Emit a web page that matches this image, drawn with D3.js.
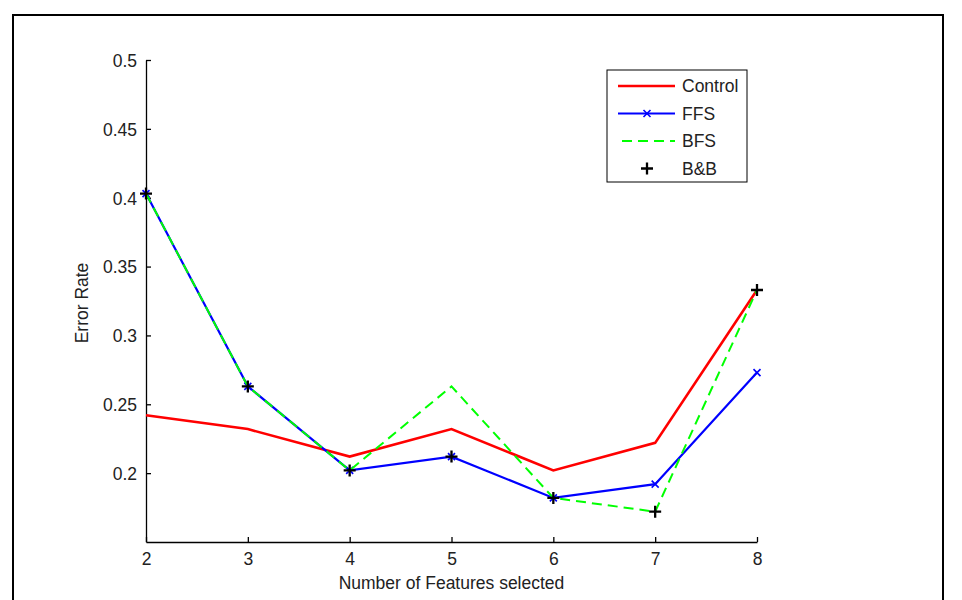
<!DOCTYPE html>
<html>
<head>
<meta charset="utf-8">
<script src="https://cdn.jsdelivr.net/npm/d3@7"></script>
<style>
  body { margin: 0; background: #fff; }
  text { font-family: "Liberation Sans", Arial, sans-serif; }
</style>
</head>
<body>
<div id="chart"></div>
<script>
(function() {
  const features = [2, 3, 4, 5, 6, 7, 8];
  const control  = [0.242, 0.232, 0.212, 0.232, 0.202, 0.222, 0.333];
  const ffs      = [0.403, 0.263, 0.202, 0.212, 0.182, 0.192, 0.273];
  const bfs      = [0.403, 0.263, 0.202, 0.263, 0.182, 0.172, 0.333];
  const bnb      = [0.403, 0.263, 0.202, 0.212, 0.182, 0.172, 0.333];
  const yTicks   = [0.2, 0.25, 0.3, 0.35, 0.4, 0.45, 0.5];

  const W = 962, H = 600;
  const margin = { top: 60, right: 205, bottom: 58, left: 146 };
  const fontSize = 17.5;

  const svg = d3.select("#chart").append("svg")
    .attr("width", W)
    .attr("height", H);

  // outer frame
  svg.append("rect")
    .attr("x", 13).attr("y", 15)
    .attr("width", 930).attr("height", 600)
    .attr("fill", "none")
    .attr("stroke", "#000")
    .attr("stroke-width", 2);

  const x = d3.scaleLinear()
    .domain([2, 8])
    .range([margin.left, W - margin.right]);

  const y = d3.scaleLinear()
    .domain([0.15, 0.5])
    .range([H - margin.bottom, margin.top]);

  // axes (ticks point inward, like MATLAB)
  const xAxis = svg.append("g")
    .attr("transform", `translate(0,${H - margin.bottom})`)
    .call(d3.axisBottom(x).tickValues(features).tickFormat(d3.format("d"))
      .tickSizeInner(-5).tickSizeOuter(0));

  const yAxis = svg.append("g")
    .attr("transform", `translate(${margin.left},0)`)
    .call(d3.axisLeft(y).tickValues(yTicks).tickFormat(d => String(+d.toFixed(2)))
      .tickSizeInner(-5).tickSizeOuter(0).tickPadding(9));

  [xAxis, yAxis].forEach(a => {
    a.selectAll("path, line").attr("stroke", "#000").attr("stroke-width", 1.3);
    a.selectAll("text").attr("font-size", fontSize).attr("fill", "#222");
  });
  xAxis.selectAll("text").attr("y", 23).attr("dy", 0);
  yAxis.selectAll("text").attr("dy", "0.36em");

  svg.append("text")
    .attr("x", (x(2) + x(8)) / 2)
    .attr("y", 589)
    .attr("text-anchor", "middle")
    .attr("font-size", fontSize)
    .attr("fill", "#222")
    .text("Number of Features selected");

  svg.append("text")
    .attr("transform", `translate(88,${(y(0.15) + y(0.5)) / 2 + 2}) rotate(-90)`)
    .attr("text-anchor", "middle")
    .attr("font-size", fontSize)
    .attr("fill", "#222")
    .text("Error Rate");

  const line = d3.line()
    .x((d, i) => x(features[i]))
    .y(d => y(d));

  svg.append("path")
    .datum(control)
    .attr("d", line)
    .attr("fill", "none")
    .attr("stroke", "#f00")
    .attr("stroke-width", 2.6);

  svg.append("path")
    .datum(ffs)
    .attr("d", line)
    .attr("fill", "none")
    .attr("stroke", "#00f")
    .attr("stroke-width", 2.2);

  const cross = 3.5;
  svg.append("g").selectAll("path")
    .data(ffs)
    .join("path")
    .attr("d", (d, i) => {
      const cx = x(features[i]), cy = y(d);
      return `M${cx - cross},${cy - cross}L${cx + cross},${cy + cross}M${cx - cross},${cy + cross}L${cx + cross},${cy - cross}`;
    })
    .attr("stroke", "#00f")
    .attr("stroke-width", 1.6);

  svg.append("path")
    .datum(bfs)
    .attr("d", line)
    .attr("fill", "none")
    .attr("stroke", "#0f0")
    .attr("stroke-width", 2)
    .attr("stroke-dasharray", "10,6");

  const plus = 6;
  svg.append("g").selectAll("path")
    .data(bnb)
    .join("path")
    .attr("d", (d, i) => {
      const cx = x(features[i]), cy = y(d);
      return `M${cx - plus},${cy}L${cx + plus},${cy}M${cx},${cy - plus}L${cx},${cy + plus}`;
    })
    .attr("stroke", "#000")
    .attr("stroke-width", 2.3);

  // legend
  const legend = svg.append("g").attr("transform", "translate(607,70)");
  legend.append("rect")
    .attr("width", 140).attr("height", 112)
    .attr("fill", "#fff")
    .attr("stroke", "#000")
    .attr("stroke-width", 1);

  const items = [
    { name: "Control", color: "#f00", dash: null, width: 2.6 },
    { name: "FFS", color: "#00f", dash: null, width: 2.2 },
    { name: "BFS", color: "#0f0", dash: "10,6", width: 2 },
    { name: "B&B", color: "#000", dash: null, width: 0 }
  ];

  items.forEach((it, i) => {
    const cy = 16 + i * 27.5;
    if (it.width) {
      legend.append("line")
        .attr("x1", it.dash ? 15 : 11).attr("x2", 68)
        .attr("y1", cy).attr("y2", cy)
        .attr("stroke", it.color)
        .attr("stroke-width", it.width)
        .attr("stroke-dasharray", it.dash);
    }
    if (it.name === "FFS") {
      legend.append("path")
        .attr("d", `M${40 - cross},${cy - cross}L${40 + cross},${cy + cross}M${40 - cross},${cy + cross}L${40 + cross},${cy - cross}`)
        .attr("stroke", it.color).attr("stroke-width", 1.6);
    }
    if (it.name === "B&B") {
      legend.append("path")
        .attr("d", `M${40 - plus},${cy}L${40 + plus},${cy}M40,${cy - plus}L40,${cy + plus}`)
        .attr("stroke", "#000").attr("stroke-width", 2.3);
    }
    legend.append("text")
      .attr("x", 75)
      .attr("y", cy)
      .attr("dy", "0.36em")
      .attr("font-size", fontSize)
      .attr("fill", "#222")
      .text(it.name);
  });
})();
</script>
</body>
</html>
